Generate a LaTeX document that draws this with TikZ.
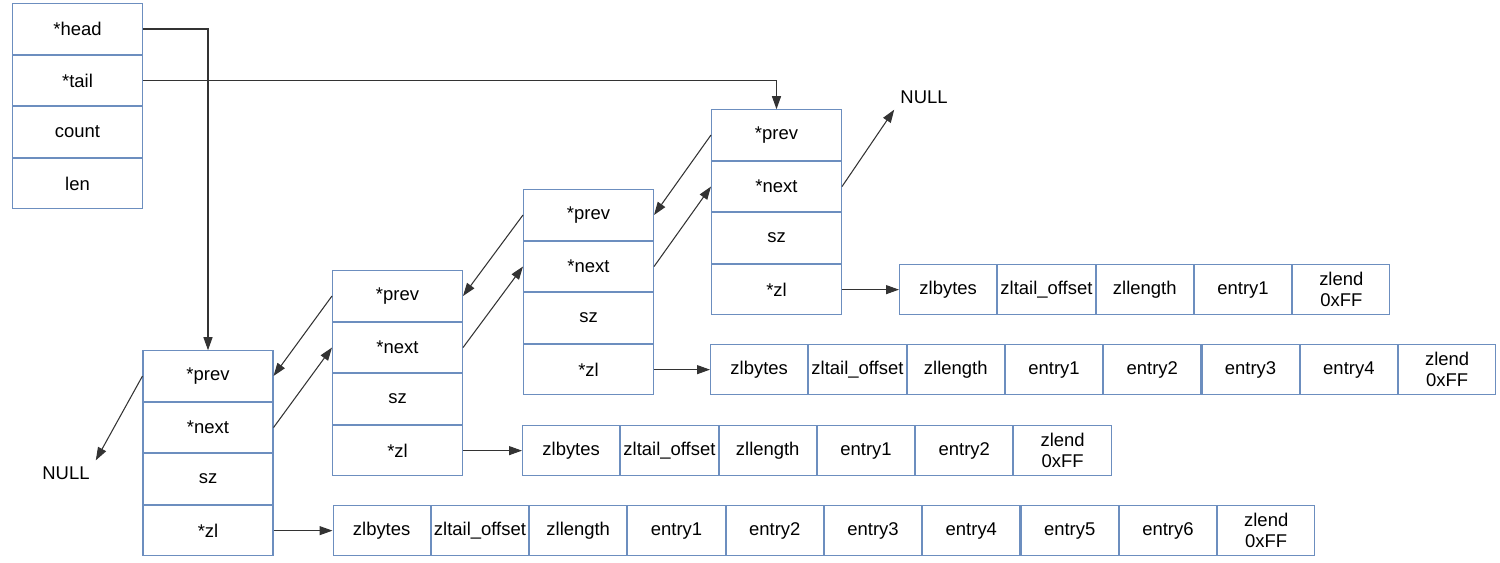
\documentclass[tikz,border=0pt]{standalone}
\usepackage{fontspec}
\setmainfont{Liberation Sans}
\usetikzlibrary{arrows.meta,positioning}
\definecolor{cellblue}{HTML}{6C8EBF}
\definecolor{linegray}{HTML}{333333}

\begin{document}
\begin{tikzpicture}[x=0.02cm, y=-0.02cm, >={Triangle[length=2.6mm, width=1.8mm]}, every node/.style={font=\fontsize{10.5}{12}\selectfont}, cell/.style={draw=cellblue, line width=0.6pt, align=center, minimum width=2.6cm, minimum height=1.01cm, inner sep=0pt}, zcell/.style={cell, minimum width=1.945cm}, ptr/.style={->, draw=linegray, line width=0.6pt}]
\useasboundingbox (0,0) rectangle (1500,562);
% list header
\node[cell] (head) at (77.5,29) {*head};
\node[cell, below=0pt of head] (tail) {*tail};
\node[cell, below=0pt of tail] (count) {count};
\node[cell, below=0pt of count] (len) {len};
% quicklist nodes
\node[cell] (p1) at (208,376) {*prev};
\node[cell, below=0pt of p1] (n1) {*next};
\node[cell, below=0pt of n1] (s1) {sz};
\node[cell, below=0pt of s1] (z1) {*zl};
\node[cell] (p2) at (397.5,296) {*prev};
\node[cell, below=0pt of p2] (n2) {*next};
\node[cell, below=0pt of n2] (s2) {sz};
\node[cell, below=0pt of s2] (z2) {*zl};
\node[cell] (p3) at (588.5,215) {*prev};
\node[cell, below=0pt of p3] (n3) {*next};
\node[cell, below=0pt of n3] (s3) {sz};
\node[cell, below=0pt of s3] (z3) {*zl};
\node[cell] (p4) at (776.5,135) {*prev};
\node[cell, below=0pt of p4] (n4) {*next};
\node[cell, below=0pt of n4] (s4) {sz};
\node[cell, below=0pt of s4] (z4) {*zl};
\node (null1) at (66,473) {NULL};
\node (null2) at (924,97) {NULL};
% ziplist of node 1
\node[zcell, right=1.18cm of z1] (zla1) {zlbytes};
\node[zcell, right=0pt of zla1] (zla2) {zltail\_offset};
\node[zcell, right=0pt of zla2] (zla3) {zllength};
\node[zcell, right=0pt of zla3] (zla4) {entry1};
\node[zcell, right=0pt of zla4] (zla5) {entry2};
\node[zcell, right=0pt of zla5] (zla6) {entry3};
\node[zcell, right=0pt of zla6] (zla7) {entry4};
\node[zcell, right=0pt of zla7] (zla8) {entry5};
\node[zcell, right=0pt of zla8] (zla9) {entry6};
\node[zcell, right=0pt of zla9] (zla10) {zlend\\0xFF};
% ziplist of node 2
\node[zcell, right=1.18cm of z2] (zlb1) {zlbytes};
\node[zcell, right=0pt of zlb1] (zlb2) {zltail\_offset};
\node[zcell, right=0pt of zlb2] (zlb3) {zllength};
\node[zcell, right=0pt of zlb3] (zlb4) {entry1};
\node[zcell, right=0pt of zlb4] (zlb5) {entry2};
\node[zcell, right=0pt of zlb5] (zlb6) {zlend\\0xFF};
% ziplist of node 3
\node[zcell, right=1.12cm of z3] (zlc1) {zlbytes};
\node[zcell, right=0pt of zlc1] (zlc2) {zltail\_offset};
\node[zcell, right=0pt of zlc2] (zlc3) {zllength};
\node[zcell, right=0pt of zlc3] (zlc4) {entry1};
\node[zcell, right=0pt of zlc4] (zlc5) {entry2};
\node[zcell, right=0pt of zlc5] (zlc6) {entry3};
\node[zcell, right=0pt of zlc6] (zlc7) {entry4};
\node[zcell, right=0pt of zlc7] (zlc8) {zlend\\0xFF};
% ziplist of node 4
\node[zcell, right=1.14cm of z4] (zld1) {zlbytes};
\node[zcell, right=0pt of zld1] (zld2) {zltail\_offset};
\node[zcell, right=0pt of zld2] (zld3) {zllength};
\node[zcell, right=0pt of zld3] (zld4) {entry1};
\node[zcell, right=0pt of zld4] (zld5) {zlend\\0xFF};
% pointers
\draw[ptr] (head.east) -| (p1.north);
\draw[ptr] (tail.east) -| (p4.north);
\draw[ptr] (p1.west) -- (null1.north east);
\draw[ptr] (n4.east) -- (null2.south west);
\draw[ptr] (n1.east) -- (n2.west);
\draw[ptr] (n2.east) -- (n3.west);
\draw[ptr] (n3.east) -- (n4.west);
\draw[ptr] (p2.west) -- (p1.east);
\draw[ptr] (p3.west) -- (p2.east);
\draw[ptr] (p4.west) -- (p3.east);
\draw[ptr] (z1) -- (zla1);
\draw[ptr] (z2) -- (zlb1);
\draw[ptr] (z3) -- (zlc1);
\draw[ptr] (z4) -- (zld1);
\end{tikzpicture}
\end{document}
